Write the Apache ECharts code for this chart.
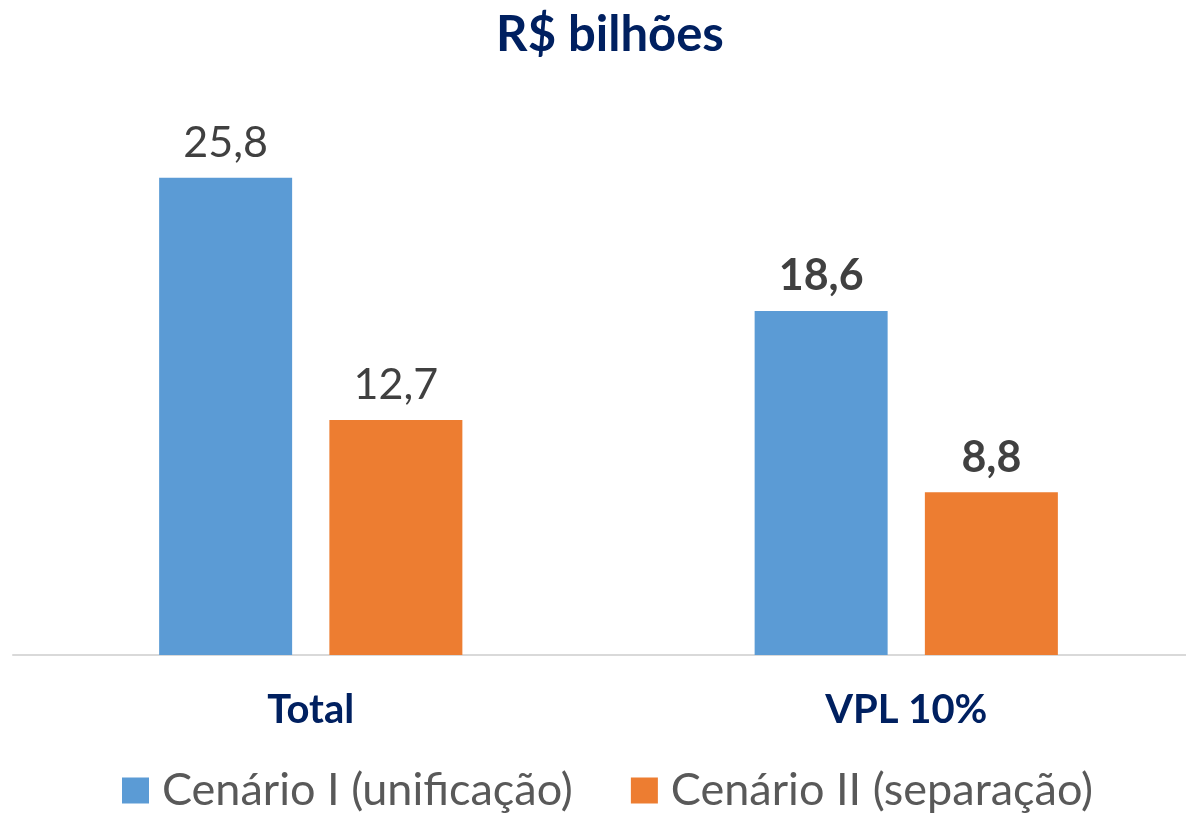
<!DOCTYPE html>
<html>
<head>
<meta charset="utf-8">
<script src="https://cdn.jsdelivr.net/npm/echarts@6/dist/echarts.min.js"></script>
<style>
    html, body { margin: 0; padding: 0; background: #fff; }
    #chart { width: 1186px; height: 813px; }
</style>
</head>
<body>
<div id="chart"></div>
<script>
// categorias e valores (R$ bilhões)
var categories = ['Total', 'VPL 10%'];
var seriesNames = ['Cenário I (unificação)', 'Cenário II (separação)'];
var cenario1 = [25.8, 18.6];
var cenario2 = [12.7, 8.8];

var fmt = function (p) {
    return String(p.value).replace('.', ',');
};
// rótulos da segunda categoria em negrito
var toData = function (arr) {
    return arr.map(function (v, i) {
        return {
            value: v,
            label: { fontWeight: i === 1 ? 'bold' : 'normal' }
        };
    });
};

var myChart = echarts.init(document.getElementById('chart'));
var option = {
    color: ['#5B9BD5', '#ED7D31'],
    title: {
        text: 'R$ bilhões',
        left: 605,
        top: 6,
        textAlign: 'center',
        textStyle: {
            fontFamily: 'Lato',
            fontSize: 49,
            fontWeight: 'bold',
            color: '#002060'
        }
    },
    legend: {
        left: 117,
        bottom: -5,
        itemWidth: 27,
        itemHeight: 26,
        itemGap: 58,
        icon: 'rect',
        data: seriesNames,
        textStyle: {
            fontFamily: 'Lato',
            fontSize: 45,
            color: '#595959',
            padding: [0, 0, 0, 8]
        }
    },
    grid: {
        left: 13,
        width: 1191,
        top: 100,
        bottom: 158,
        outerBoundsMode: 'none',
        containLabel: false
    },
    xAxis: {
        type: 'category',
        data: categories,
        axisTick: { show: false },
        axisLine: { lineStyle: { color: '#D9D9D9', width: 2 } },
        axisLabel: {
            margin: 35,
            fontFamily: 'Lato',
            fontSize: 40,
            fontWeight: 'bold',
            color: '#002060'
        }
    },
    yAxis: {
        type: 'value',
        min: 0,
        max: 30,
        show: false,
        splitLine: { show: false }
    },
    series: [
        {
            name: seriesNames[0],
            type: 'bar',
            barWidth: 133,
            barGap: '28%',
            data: toData(cenario1),
            label: {
                show: true,
                position: 'top',
                distance: 13,
                formatter: fmt,
                fontFamily: 'Lato',
                fontSize: 43,
                color: '#404040'
            }
        },
        {
            name: seriesNames[1],
            type: 'bar',
            barWidth: 133,
            barGap: '28%',
            data: toData(cenario2),
            label: {
                show: true,
                position: 'top',
                distance: 13,
                formatter: fmt,
                fontFamily: 'Lato',
                fontSize: 43,
                color: '#404040'
            }
        }
    ]
};
myChart.setOption(option);
</script>
</body>
</html>
